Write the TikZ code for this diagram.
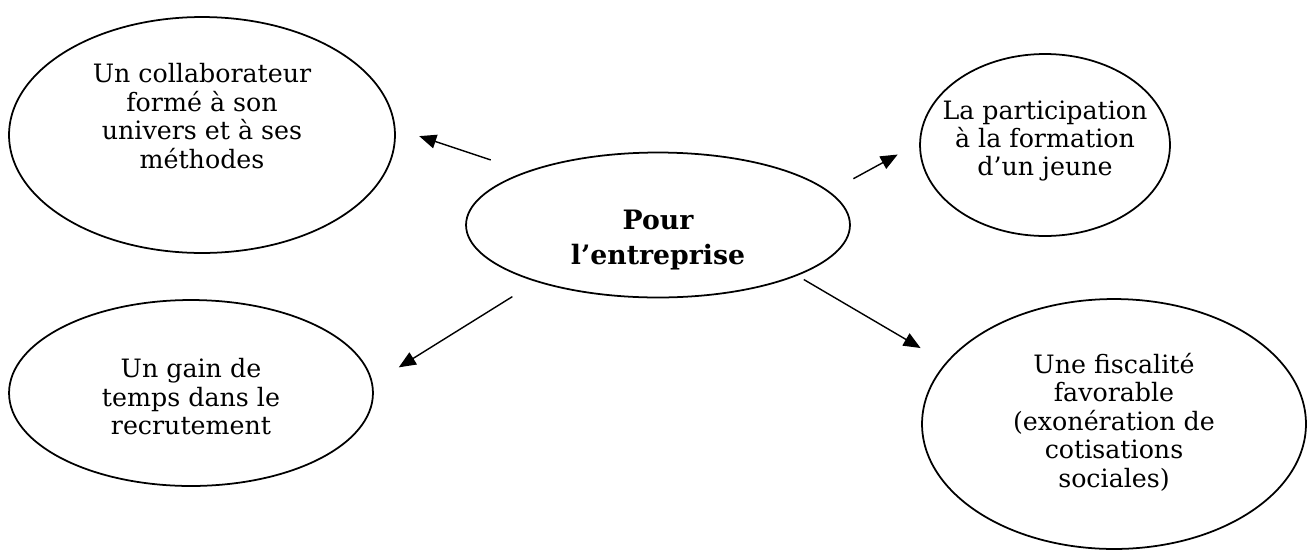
\documentclass[tikz,border=0pt]{standalone}
\usepackage{fontspec}
\setmainfont{DejaVu Serif}
\usepackage{tikz}
\usetikzlibrary{shapes.geometric,arrows.meta}

\begin{document}
\begin{tikzpicture}[x=0.02cm,y=-0.02cm,>={Triangle[length=0.34cm,width=0.28cm]},
  bulle/.style={draw,ellipse,line width=1pt,inner sep=0pt},
  txt/.style={align=center,font=\fontsize{14.4}{16.2}\selectfont},
  fleche/.style={->,line width=0.8pt}]
\useasboundingbox (0,0) rectangle (1314,555);
\node[bulle,minimum width=7.72cm,minimum height=4.72cm] (collab) at (202,135) {};
\node[bulle,minimum width=7.28cm,minimum height=3.72cm] (gain) at (191,393) {};
\node[bulle,minimum width=7.68cm,minimum height=2.90cm] (pour) at (658,225) {};
\node[bulle,minimum width=5.00cm,minimum height=3.64cm] (particip) at (1045,145) {};
\node[bulle,minimum width=7.68cm,minimum height=5.00cm] (fiscal) at (1114,424) {};
\node[txt] (collab-t) at (202,116) {Un collaborateur\\formé à son\\univers et à ses\\méthodes};
\node[txt] (gain-t) at (191,397) {Un gain de\\temps dans le\\recrutement};
\node[txt,font=\fontsize{15.2}{19.4}\selectfont\bfseries] (pour-t) at (658,240) {Pour\\l’entreprise};
\node[txt] (particip-t) at (1045,141) {La participation\\à la formation\\d’un jeune};
\node[txt] (fiscal-t) at (1114,422) {Une fiscalité\\favorable\\(exonération de\\cotisations\\sociales)};
\draw[fleche,shorten <=0.74cm,shorten >=0.50cm] (pour.158.7) -- (collab.2.1);
\draw[fleche,shorten <=0.54cm,shorten >=0.49cm] (pour.11.7) -- (particip.179.1);
\draw[fleche,shorten <=0.56cm,shorten >=0.61cm] (pour.205.5) -- (gain.3.6);
\draw[fleche,shorten <=0.15cm,shorten >=0.58cm] (pour.-20) -- (fiscal.160.8);
\end{tikzpicture}
\end{document}
